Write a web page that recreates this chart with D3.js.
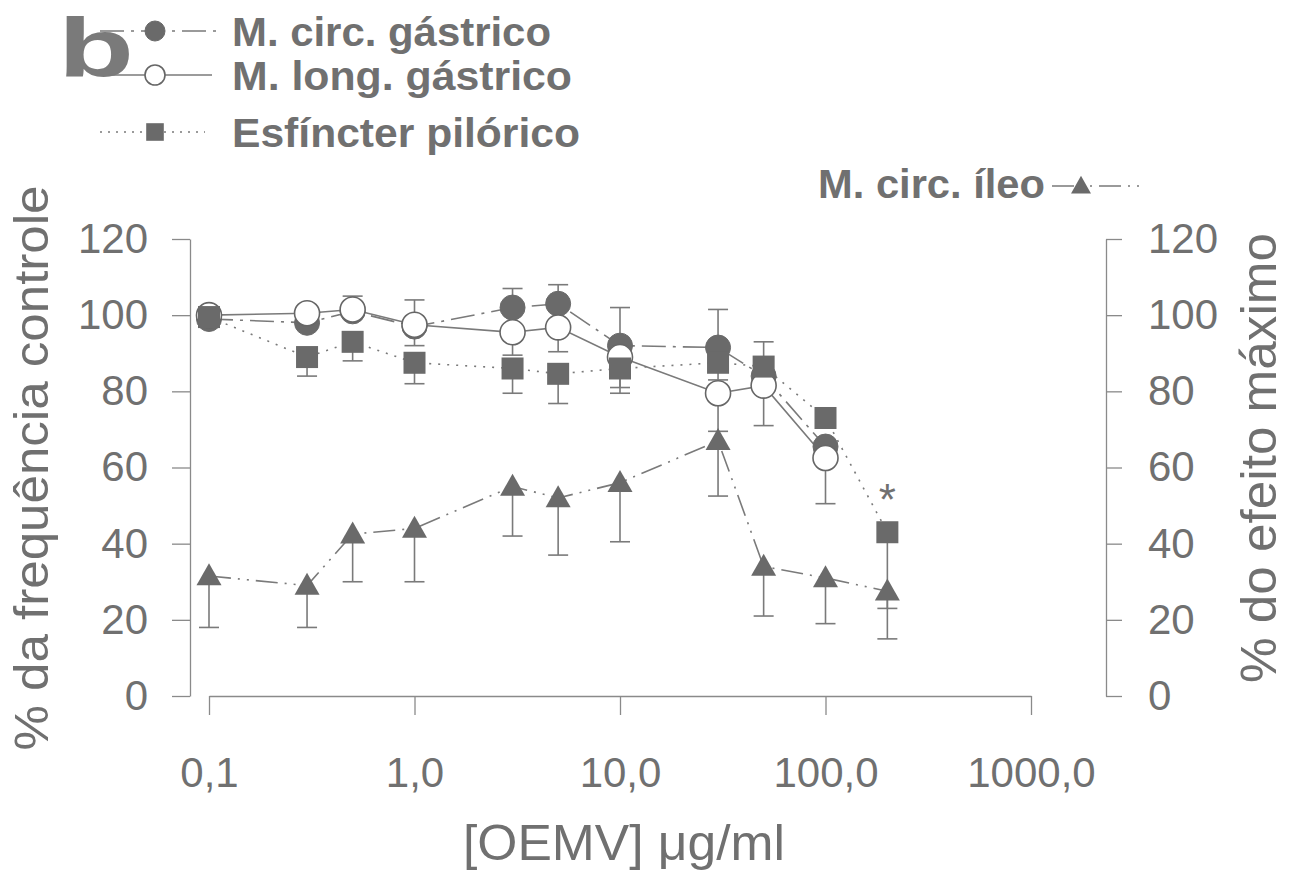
<!DOCTYPE html>
<html>
<head>
<meta charset="utf-8">
<script src="https://cdn.jsdelivr.net/npm/d3@7"></script>
<style>
  body { margin: 0; background: #ffffff; }
  text { font-family: "Liberation Sans", Arial, sans-serif; }
</style>
</head>
<body>
<script>
// doses of OEMV (ug/ml)
const doses = [0.1, 0.3, 0.5, 1, 3, 5, 10, 30, 50, 100, 200];

// M. circ. gástrico (filled circles), error bars go up
const circGastrico    = [99, 98, 101, 97, 102, 103, 92, 91.5, 84, 65.5, null];
const circGastricoTop = [null, null, 105, 104, 107, 108, 102, 101.5, 93, null, null];

// M. long. gástrico (open circles), error bars go down
const longGastrico    = [100, 100.5, 101.5, 97.5, 95.5, 96.8, 89, 79.5, 81.5, 62.5, null];
const longGastricoLow = [null, null, null, 92, 89.5, 90.4, 81, 69.5, 71, 50.5, null];

// Esfíncter pilórico (squares), error bars go down
const pilorico    = [99.5, 89, 93, 87.5, 86, 84.6, 86, 87.5, 86.5, 73, 43];
const piloricoLow = [null, 84, 88, 82, 79.5, 76.8, 79.5, 83, null, null, 23];

// M. circ. íleo (triangles, right axis), error bars go down
const ileo    = [31.5, 29, 42.5, 44, 55, 52, 56, 67, 34, 31, 27.5];
const ileoLow = [18, 18, 30, 30, 42, 37, 40.5, 52.5, 21, 19, 15];

const yTicks = [0, 20, 40, 60, 80, 100, 120];
const xTicks = [0.1, 1, 10, 100, 1000];
const xTickLabels = ["0,1", "1,0", "10,0", "100,0", "1000,0"];

const width = 1292, height = 872;
const ink = "#707070";
const markFill = "#6a6a6a";
const lineCol = "#7a7a7a";

const svg = d3.select("body")
  .append("svg")
  .attr("width", width)
  .attr("height", height);

const x = d3.scaleLog().domain([0.1, 1000]).range([209, 1031]);
const y = d3.scaleLinear().domain([0, 120]).range([696, 239]);
const yR = d3.scaleLinear().domain([0, 120]).range([696, 239]);

/* ---------- axes ---------- */
const styleAxis = g => {
  g.selectAll("path, line").attr("stroke", "#8a8a8a").attr("stroke-width", 1.3);
  g.selectAll("text")
    .attr("fill", ink)
    .style("font-size", "42px")
    .style("font-family", "'Liberation Sans', Arial, sans-serif");
};

svg.append("g")
  .attr("transform", "translate(190,0)")
  .call(d3.axisLeft(y).tickValues(yTicks).tickSize(18).tickSizeOuter(0).tickPadding(24))
  .call(styleAxis);

svg.append("g")
  .attr("transform", "translate(1106,0)")
  .call(d3.axisRight(yR).tickValues(yTicks).tickSize(16).tickSizeOuter(0).tickPadding(26))
  .call(styleAxis);

svg.append("g")
  .attr("transform", "translate(0,696)")
  .call(d3.axisBottom(x).tickValues(xTicks).tickSize(19).tickSizeOuter(0).tickPadding(42)
    .tickFormat((d, i) => xTickLabels[i]))
  .call(styleAxis);

/* ---------- axis titles ---------- */
svg.append("text")
  .attr("transform", "translate(48,468) rotate(-90)")
  .attr("text-anchor", "middle")
  .attr("fill", ink)
  .style("font-size", "49px")
  .attr("textLength", 565)
  .attr("lengthAdjust", "spacingAndGlyphs")
  .text("% da frequência controle");

svg.append("text")
  .attr("transform", "translate(1276,458) rotate(-90)")
  .attr("text-anchor", "middle")
  .attr("fill", ink)
  .style("font-size", "50px")
  .attr("textLength", 450)
  .attr("lengthAdjust", "spacingAndGlyphs")
  .text("% do efeito máximo");

svg.append("text")
  .attr("x", 624)
  .attr("y", 860)
  .attr("text-anchor", "middle")
  .attr("fill", ink)
  .style("font-size", "50px")
  .attr("textLength", 322)
  .attr("lengthAdjust", "spacingAndGlyphs")
  .text("[OEMV] μg/ml");

/* ---------- series ---------- */
const series = [
  { name: "circ", vals: circGastrico, err: circGastricoTop, scale: y, dash: "24,7,3,7", shape: "filled" },
  { name: "long", vals: longGastrico, err: longGastricoLow, scale: y, dash: null, shape: "open" },
  { name: "pil", vals: pilorico, err: piloricoLow, scale: y, dash: "2,7", shape: "square" },
  { name: "ileo", vals: ileo, err: ileoLow, scale: yR, dash: "22,7,2,7,2,7", shape: "triangle" }
];

const pointsOf = s => doses
  .map((d, i) => ({ d, v: s.vals[i], e: s.err[i] }))
  .filter(p => p.v != null);

// connecting lines
series.forEach(s => {
  const line = d3.line().x(p => x(p.d)).y(p => s.scale(p.v));
  svg.append("path")
    .datum(pointsOf(s))
    .attr("d", line)
    .attr("fill", "none")
    .attr("stroke", lineCol)
    .attr("stroke-width", 1.6)
    .attr("stroke-dasharray", s.dash);
});

// error bars
series.forEach(s => {
  const bars = svg.append("g").selectAll("g")
    .data(pointsOf(s).filter(p => p.e != null))
    .enter().append("g");
  bars.append("line")
    .attr("x1", p => x(p.d)).attr("x2", p => x(p.d))
    .attr("y1", p => s.scale(p.v)).attr("y2", p => s.scale(p.e));
  bars.append("line")
    .attr("x1", p => x(p.d) - 10).attr("x2", p => x(p.d) + 10)
    .attr("y1", p => s.scale(p.e)).attr("y2", p => s.scale(p.e));
  bars.selectAll("line").attr("stroke", lineCol).attr("stroke-width", 1.6);
});

// markers
const triPath = (cx, cy, w, h) =>
  `M${cx},${cy - h * 0.58} L${cx + w / 2},${cy + h * 0.42} L${cx - w / 2},${cy + h * 0.42} Z`;

function drawMarker(g, shape, cx, cy, big) {
  const k = big ? 1 : 0.8;
  if (shape === "filled") {
    g.append("circle").attr("cx", cx).attr("cy", cy).attr("r", 12.5 * k)
      .attr("fill", markFill).attr("stroke", markFill).attr("stroke-width", 1);
  } else if (shape === "open") {
    g.append("circle").attr("cx", cx).attr("cy", cy).attr("r", 12.5 * k)
      .attr("fill", "#ffffff").attr("stroke", "#666").attr("stroke-width", 1.6);
  } else if (shape === "square") {
    const s = 22 * k;
    g.append("rect").attr("x", cx - s / 2).attr("y", cy - s / 2).attr("width", s).attr("height", s)
      .attr("fill", markFill);
  } else {
    g.append("path").attr("d", triPath(cx, cy, 25 * k, 22 * k)).attr("fill", markFill);
  }
}

series.forEach(s => {
  const g = svg.append("g");
  pointsOf(s).forEach(p => drawMarker(g, s.shape, x(p.d), s.scale(p.v), true));
});

// significance mark
svg.append("text")
  .attr("x", x(200))
  .attr("y", 515)
  .attr("text-anchor", "middle")
  .attr("fill", ink)
  .style("font-size", "44px")
  .text("*");

/* ---------- panel letter and legend ---------- */
svg.append("text")
  .attr("x", 58)
  .attr("y", 77)
  .attr("fill", "#7a7a7a")
  .style("font-size", "84px")
  .style("font-weight", "bold")
  .attr("textLength", 76)
  .attr("lengthAdjust", "spacingAndGlyphs")
  .text("b");

const legendRows = [
  { label: "M. circ. gástrico", shape: "filled", dash: "24,7,3,7", y: 31, base: 46, len: 319, x1: 100, x2: 216 },
  { label: "M. long. gástrico", shape: "open", dash: null, y: 75, base: 90, len: 340, x1: 108, x2: 212 },
  { label: "Esfíncter pilórico", shape: "square", dash: "2,6", y: 132, base: 147, len: 348, x1: 100, x2: 205 }
];

const legend = svg.append("g");
legendRows.forEach(r => {
  legend.append("line")
    .attr("x1", r.x1).attr("x2", r.x2).attr("y1", r.y).attr("y2", r.y)
    .attr("stroke", lineCol).attr("stroke-width", 1.6)
    .attr("stroke-dasharray", r.dash);
  drawMarker(legend, r.shape, 155, r.y, false);
  legend.append("text")
    .attr("x", 232)
    .attr("y", r.base)
    .attr("fill", ink)
    .style("font-size", "40px")
    .style("font-weight", "bold")
    .attr("textLength", r.len)
    .attr("lengthAdjust", "spacingAndGlyphs")
    .text(r.label);
});

legend.append("text")
  .attr("x", 818)
  .attr("y", 198)
  .attr("fill", ink)
  .style("font-size", "40px")
  .style("font-weight", "bold")
  .attr("textLength", 227)
  .attr("lengthAdjust", "spacingAndGlyphs")
  .text("M. circ. íleo");
legend.append("line")
  .attr("x1", 1052).attr("x2", 1140).attr("y1", 186).attr("y2", 186)
  .attr("stroke", lineCol).attr("stroke-width", 1.6)
  .attr("stroke-dasharray", "22,7,2,7,2,7");
drawMarker(legend, "triangle", 1081, 186, false);
</script>
</body>
</html>
